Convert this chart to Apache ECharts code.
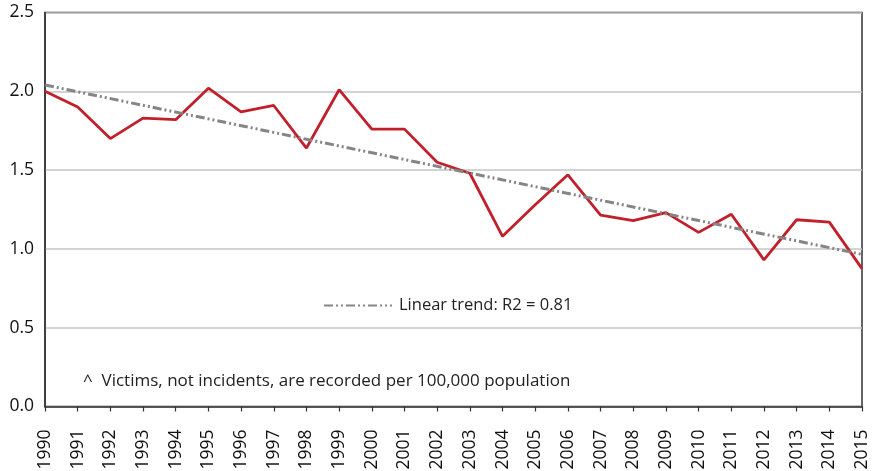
<!DOCTYPE html>
<html>
<head>
<meta charset="utf-8">
<script src="https://cdn.jsdelivr.net/npm/echarts@6/dist/echarts.min.js"></script>
<style>
html,body{margin:0;padding:0;background:#fff;}
#chart{width:878px;height:471px;}
</style>
</head>
<body>
<div id="chart"></div>
<script>
const years = [1990,1991,1992,1993,1994,1995,1996,1997,1998,1999,2000,2001,2002,2003,2004,2005,2006,2007,2008,2009,2010,2011,2012,2013,2014,2015];
const rates = [2.00,1.90,1.70,1.83,1.82,2.02,1.87,1.91,1.64,2.01,1.76,1.76,1.55,1.48,1.08,1.28,1.47,1.215,1.18,1.23,1.105,1.22,0.93,1.185,1.17,0.875];
const trendYears = [1990, 2015];
const trendValues = [2.04, 0.965];
const yTicks = [0.0, 0.5, 1.0, 1.5, 2.0, 2.5];
const trendLabel = 'Linear trend: R2 = 0.81';
const footnote = '^  Victims, not incidents, are recorded per 100,000 population';

const font = '"Open Sans", "Noto Sans", sans-serif';
const chart = echarts.init(document.getElementById('chart'));
chart.setOption({
  animation: false,
  grid: {left: 45, right: 16, top: 12.5, bottom: 64.5, show: true, borderColor: '#333', borderWidth: 1.5, backgroundColor: 'transparent', outerBoundsMode: 'none', containLabel: false},
  title: {
    text: footnote, left: 78, top: 368,
    textStyle: {fontFamily: font, fontSize: 17, fontWeight: 'normal', color: '#222'}
  },
  legend: {
    data: [{name: trendLabel, itemStyle: {opacity: 0}}], left: 318, top: 292, itemWidth: 68, itemHeight: 10, itemGap: 10,
    textStyle: {fontFamily: font, fontSize: 16.5, color: '#222', padding: [0,0,0,2]}
  },
  xAxis: {
    type: 'value', min: years[0], max: years[years.length-1], interval: 1,
    axisLine: {show: true, lineStyle: {color: '#333', width: 1.5}},
    axisTick: {show: true, length: 5, lineStyle: {color: '#333', width: 1.2}},
    splitLine: {show: false},
    axisLabel: {rotate: 90, margin: 23, fontFamily: font, fontSize: 17.5, color: '#111', formatter: v => String(v)}
  },
  yAxis: {
    type: 'value', min: yTicks[0], max: yTicks[yTicks.length-1], interval: 0.5,
    axisLine: {show: true, lineStyle: {color: '#333', width: 1.5}},
    axisTick: {show: false},
    splitLine: {show: true, lineStyle: {color: '#c4c4c4', width: 1.5}},
    axisLabel: {margin: 11, fontFamily: font, fontSize: 17.5, color: '#111', formatter: v => v.toFixed(1)}
  },
  series: [
    {
      name: 'Rate', type: 'line', symbol: 'none', z: 3,
      data: years.map((y, i) => [y, rates[i]]),
      lineStyle: {color: '#c1202b', width: 2.8}
    },
    {
      name: trendLabel, type: 'line', symbol: 'none', z: 4,
      data: trendYears.map((y, i) => [y, trendValues[i]]),
      itemStyle: {color: '#858585'},
      lineStyle: {color: '#858585', width: 3, type: [9, 3, 2, 3, 2, 3]}
    }
  ]
});
</script>
</body>
</html>
